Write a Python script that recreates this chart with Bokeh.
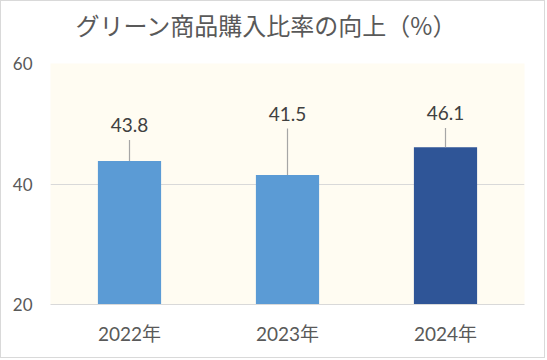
from bokeh.plotting import figure
from bokeh.models import Range1d, ColumnDataSource, LabelSet, Title, FixedTicker
from bokeh.embed import file_html
from bokeh.resources import INLINE
from bokeh.core.properties import value

# ---- data ----
years = ["2022年", "2023年", "2024年"]
rates = [43.8, 41.5, 46.1]
errors = [3.5, 7.7, 3.2]
bar_colors = ["#5B9BD5", "#5B9BD5", "#2F5597"]
y_ticks = [20, 40, 60]
title_text = "グリーン商品購入比率の向上（%）"

upper = [r + e for r, e in zip(rates, errors)]
labels = [f"{r:.1f}" for r in rates]
src = ColumnDataSource(dict(x=years, top=rates, upper=upper, label=labels, color=bar_colors))

FONT = "Lato, 'Noto Sans CJK JP', sans-serif"

p = figure(x_range=years, y_range=Range1d(20, 60), width=545, height=358,
           output_backend="svg", toolbar_location=None,
           min_border_left=49, min_border_right=22, min_border_top=62, min_border_bottom=55)

p.background_fill_color = "#FFFCF2"
p.border_fill_color = "white"
p.outline_line_color = None
p.styles = {"border": "1px solid #D9D9D9"}

# spacer between frame and title (closest to the frame), then the title itself
p.add_layout(Title(text=" ", text_font_size="2px", standoff=18), "above")
p.add_layout(Title(text=title_text, align="left", offset=25, standoff=0,
                   vertical_align="bottom",
                   text_font="'Noto Sans CJK JP', sans-serif", text_font_size="24px",
                   text_font_style="normal", text_color="#595959"), "above")

p.vbar(x="x", top="top", bottom=20, width=0.4, fill_color="color", line_color=None, source=src)
p.segment(x0="x", y0="top", x1="x", y1="upper", line_color="#A6A6A6", line_width=1.2, source=src)

p.add_layout(LabelSet(x="x", y="upper", text="label", source=src, y_offset=15,
                      text_align="center", text_baseline="middle",
                      text_font=value(FONT), text_font_size=value("19px"),
                      text_color="#404040"))

p.xgrid.visible = False
p.ygrid.grid_line_color = "#D9D9D9"
p.ygrid.grid_line_width = 1

p.yaxis.ticker = FixedTicker(ticks=y_ticks)
p.yaxis.axis_line_color = None
p.yaxis.major_tick_line_color = None
p.yaxis.minor_tick_line_color = None
p.yaxis.major_label_text_font = FONT
p.yaxis.major_label_text_font_size = "17px"
p.yaxis.major_label_text_color = "#595959"
p.yaxis.major_label_standoff = 12

p.xaxis.axis_line_color = "#D9D9D9"
p.xaxis.major_tick_line_color = None
p.xaxis.minor_tick_line_color = None
p.xaxis.major_label_text_font = FONT
p.xaxis.major_label_text_font_size = "19px"
p.xaxis.major_label_text_color = "#595959"
p.xaxis.major_label_standoff = 11

open("out.html", "w").write(file_html(p, INLINE))
